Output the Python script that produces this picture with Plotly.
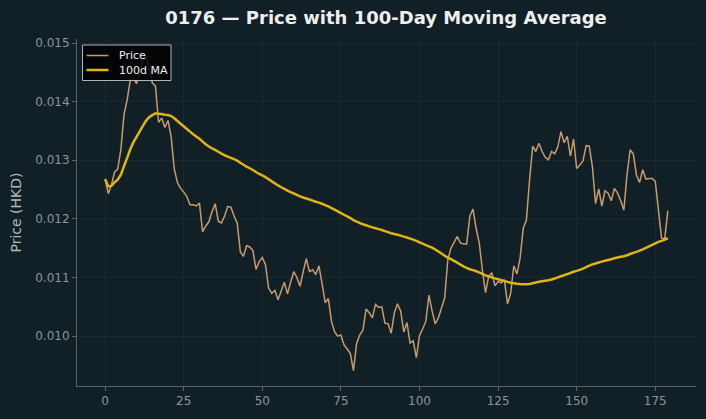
import plotly.graph_objects as go
import pandas as pd

days = list(range(180))
price = [
    0.01268, 0.01243, 0.01258, 0.01280, 0.01285, 0.01318, 0.01378, 0.01403, 0.01437, 0.01440,
    0.01431, 0.01452, 0.01471, 0.01480, 0.01458, 0.01432, 0.01427, 0.01365, 0.01372, 0.01356,
    0.01368, 0.01340, 0.01285, 0.01262, 0.01252, 0.01246, 0.01238, 0.01224, 0.01224, 0.01222,
    0.01227, 0.01178, 0.01188, 0.01195, 0.01212, 0.01226, 0.01196, 0.01193, 0.01205, 0.01221,
    0.01220, 0.01205, 0.01193, 0.01144, 0.01136, 0.01154, 0.01152, 0.01146, 0.01114, 0.01127,
    0.01134, 0.01122, 0.01082, 0.01073, 0.01078, 0.01062, 0.01077, 0.01092, 0.01072, 0.01092,
    0.01110, 0.01100, 0.01085, 0.01110, 0.01132, 0.01110, 0.01113, 0.01105, 0.01120, 0.01090,
    0.01057, 0.01064, 0.01025, 0.01007, 0.01000, 0.01002, 0.00985, 0.00978, 0.00970, 0.00941,
    0.00988, 0.01002, 0.01010, 0.01046, 0.01040, 0.01031, 0.01054, 0.01049, 0.01050, 0.01022,
    0.01021, 0.01005, 0.01040, 0.01055, 0.01043, 0.01007, 0.01023, 0.00988, 0.00992, 0.00963,
    0.01001, 0.01012, 0.01025, 0.01070, 0.01043, 0.01021, 0.01031, 0.01048, 0.01065, 0.01130,
    0.01150, 0.01160, 0.01170, 0.01159, 0.01157, 0.01157, 0.01204, 0.01217, 0.01184, 0.01159,
    0.01113, 0.01074, 0.01102, 0.01108, 0.01086, 0.01093, 0.01091, 0.01096, 0.01055, 0.01073,
    0.01120, 0.01106, 0.01133, 0.01184, 0.01198, 0.01266, 0.01324, 0.01315, 0.01329, 0.01315,
    0.01305, 0.01301, 0.01315, 0.01311, 0.01323, 0.01349, 0.01330, 0.01341, 0.01307, 0.01336,
    0.01286, 0.01292, 0.01299, 0.01325, 0.01324, 0.01289, 0.01226, 0.01251, 0.01222, 0.01248,
    0.01244, 0.01231, 0.01252, 0.01244, 0.01231, 0.01215, 0.01275, 0.01318, 0.01311, 0.01275,
    0.01262, 0.01284, 0.01268, 0.01269, 0.01269, 0.01264, 0.01215, 0.01167, 0.01166, 0.01214,
]
ma_window = 100
ma = pd.Series(price).rolling(ma_window, min_periods=1).mean().tolist()

x_ticks = [0, 25, 50, 75, 100, 125, 150, 175]
y_ticks = [0.010, 0.011, 0.012, 0.013, 0.014, 0.015]

title_text = "0176 — Price with 100-Day Moving Average"
y_title = "Price (HKD)"
legend_labels = ["Price", "100d MA"]

BG = "#111f26"
GRID = "#1a2930"
SPINE = "#59636a"
TICK = "#8c959b"
PRICE_C = "#c89b6d"
MA_C = "#e0b414"

W, H = 706, 419
L, R, T, B = 77, 10, 39, 33
pw, ph = W - L - R, H - T - B


def px(xp):
    return (xp - L) / pw


def py(yp):
    return (H - B - yp) / ph


fig = go.Figure()
fig.add_trace(go.Scatter(x=days, y=price, mode="lines", name=legend_labels[0],
                         line=dict(color=PRICE_C, width=1.5, simplify=False),
                         showlegend=False))
fig.add_trace(go.Scatter(x=days, y=ma, mode="lines", name=legend_labels[1],
                         line=dict(color=MA_C, width=2.5, simplify=False),
                         showlegend=False))

# legend box drawn in paper coordinates
x0, x1, y0, y1 = px(82.5), px(171), py(45), py(80.5)
shapes = [
    dict(type="rect", xref="paper", yref="paper", x0=x0, x1=x1, y0=y1, y1=y0,
         fillcolor="rgba(0,0,0,0.85)", line=dict(color="#b5b5b5", width=1), layer="above"),
    dict(type="line", xref="paper", yref="paper", x0=px(86.5), x1=px(108.5),
         y0=py(55.5), y1=py(55.5), line=dict(color=PRICE_C, width=1.5), layer="above"),
    dict(type="line", xref="paper", yref="paper", x0=px(86.5), x1=px(108.5),
         y0=py(70), y1=py(70), line=dict(color=MA_C, width=2.5), layer="above"),
]
annotations = [
    dict(text=legend_labels[0], xref="paper", yref="paper", x=px(117), y=py(55.5),
         xanchor="left", yanchor="middle", showarrow=False,
         font=dict(family="DejaVu Sans", size=11, color="#f0f0f0")),
    dict(text=legend_labels[1], xref="paper", yref="paper", x=px(117), y=py(70),
         xanchor="left", yanchor="middle", showarrow=False,
         font=dict(family="DejaVu Sans", size=11, color="#f0f0f0")),
]

fig.update_layout(
    width=W, height=H,
    paper_bgcolor=BG, plot_bgcolor=BG,
    margin=dict(l=L, r=R, t=T, b=B),
    font=dict(family="DejaVu Sans", color=TICK, size=12),
    title=dict(text="<b>" + title_text + "</b>", x=(386 / W), xanchor="center",
               y=1 - 18 / H, yanchor="middle",
               font=dict(family="DejaVu Sans", size=18, color="#eeeeee")),
    showlegend=False,
    shapes=shapes,
    annotations=annotations,
)
fig.update_xaxes(range=[-8.95, 187.95], tickmode="array", tickvals=x_ticks,
                 ticktext=[str(t) for t in x_ticks],
                 showgrid=True, gridcolor=GRID, gridwidth=1, zeroline=False,
                 showline=True, linecolor=SPINE, linewidth=1,
                 ticks="outside", ticklen=4, tickcolor=SPINE,
                 tickfont=dict(size=12, color=TICK))
fig.update_yaxes(range=[0.009148, 0.01507], tickmode="array", tickvals=y_ticks,
                 ticktext=["%.3f" % t for t in y_ticks],
                 showgrid=True, gridcolor=GRID, gridwidth=1, zeroline=False,
                 showline=True, linecolor=SPINE, linewidth=1,
                 ticks="outside", ticklen=4, tickcolor=SPINE,
                 tickfont=dict(size=12, color=TICK),
                 title=dict(text=y_title, font=dict(size=14, color="#b3b8bb"), standoff=10))

fig.write_html("out.html")
